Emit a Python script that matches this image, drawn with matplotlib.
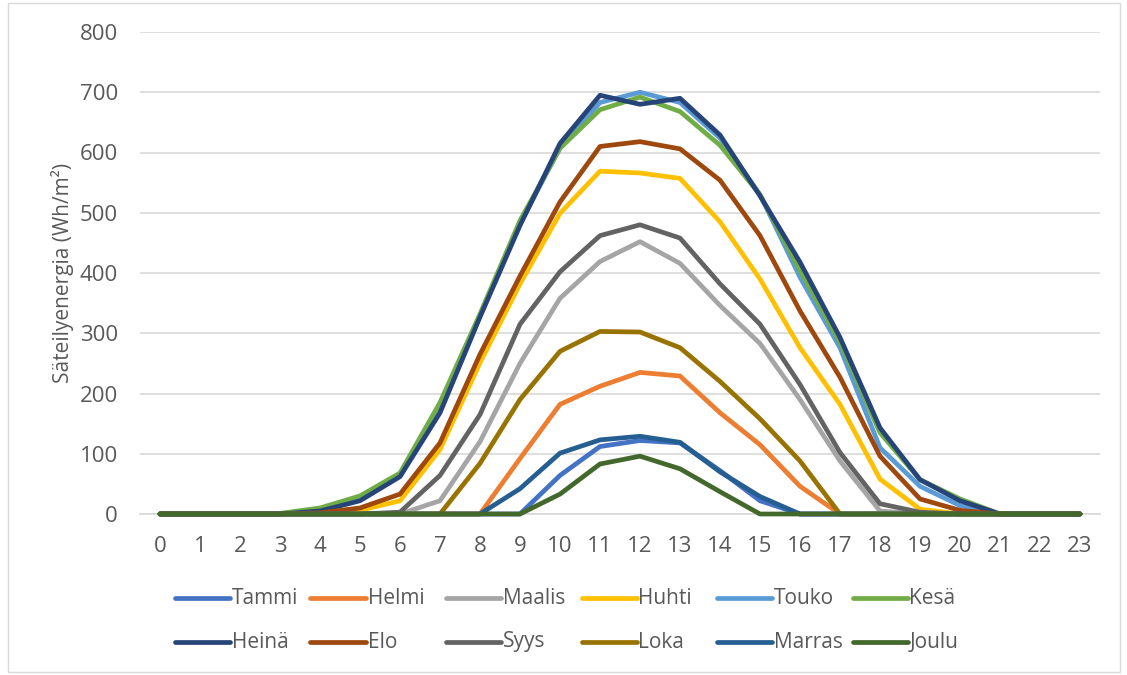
import matplotlib
matplotlib.use("Agg")
import matplotlib.pyplot as plt
from matplotlib.lines import Line2D
from matplotlib.patches import Rectangle

plt.rcParams["font.family"] = ["Open Sans", "DejaVu Sans"]

hours = list(range(24))
hour_labels = [str(h) for h in hours]

months = ["Tammi", "Helmi", "Maalis", "Huhti", "Touko", "Kesä",
          "Heinä", "Elo", "Syys", "Loka", "Marras", "Joulu"]

colors = ["#4472C4", "#ED7D31", "#A5A5A5", "#FFC000", "#5B9BD5", "#70AD47",
          "#264478", "#9E480E", "#636363", "#997300", "#255E91", "#43682B"]

# Hourly radiation energy (Wh/m2), hours 0..23
tammi  = [0, 0, 0, 0, 0, 0, 0, 0, 0, 0, 64, 112, 122, 118, 72, 22, 0, 0, 0, 0, 0, 0, 0, 0]
helmi  = [0, 0, 0, 0, 0, 0, 0, 0, 0, 92, 182, 212, 235, 229, 168, 115, 46, 0, 0, 0, 0, 0, 0, 0]
maalis = [0, 0, 0, 0, 0, 0, 0, 22, 120, 250, 358, 419, 452, 416, 346, 283, 190, 88, 5, 0, 0, 0, 0, 0]
huhti  = [0, 0, 0, 0, 1, 6, 22, 107, 251, 382, 499, 569, 566, 557, 485, 390, 276, 182, 58, 8, 0, 0, 0, 0]
touko  = [0, 0, 0, 0, 7, 25, 65, 178, 330, 482, 608, 683, 700, 683, 624, 530, 393, 276, 110, 46, 14, 0, 0, 0]
kesa   = [0, 0, 0, 1, 10, 30, 68, 185, 332, 487, 607, 671, 692, 668, 612, 530, 404, 285, 135, 57, 25, 0, 0, 0]
heina  = [0, 0, 0, 0, 5, 22, 62, 168, 327, 479, 615, 695, 680, 690, 629, 528, 418, 293, 143, 57, 22, 0, 0, 0]
elo    = [0, 0, 0, 0, 2, 10, 33, 118, 265, 395, 518, 610, 618, 606, 554, 462, 337, 227, 96, 25, 6, 0, 0, 0]
syys   = [0, 0, 0, 0, 0, 0, 3, 64, 165, 315, 402, 462, 480, 458, 382, 315, 215, 102, 17, 3, 0, 0, 0, 0]
loka   = [0, 0, 0, 0, 0, 0, 0, 0, 84, 190, 270, 303, 302, 276, 220, 158, 88, 0, 0, 0, 0, 0, 0, 0]
marras = [0, 0, 0, 0, 0, 0, 0, 0, 0, 42, 101, 123, 129, 119, 70, 29, 0, 0, 0, 0, 0, 0, 0, 0]
joulu  = [0, 0, 0, 0, 0, 0, 0, 0, 0, 0, 33, 83, 96, 75, 37, 0, 0, 0, 0, 0, 0, 0, 0, 0]

series = [tammi, helmi, maalis, huhti, touko, kesa,
          heina, elo, syys, loka, marras, joulu]

W, H = 1127, 675
fig = plt.figure(figsize=(W / 100, H / 100), dpi=100)
ax = fig.add_axes([140 / W, 1 - 514 / H, 960 / W, 482 / H])

text_color = "#595959"
grid_color = "#D9D9D9"

for vals, col in zip(series, colors):
    ax.plot(hours, vals, color=col, lw=3.4, solid_joinstyle="round",
            solid_capstyle="round", clip_on=False, zorder=3)

ax.set_xlim(-0.5, 23.5)
ax.set_ylim(0, 800)
ax.set_yticks(range(0, 801, 100))
ax.set_xticks(hours)
ax.set_xticklabels(hour_labels)
ax.grid(axis="y", color=grid_color, lw=1.2, zorder=0)
ax.set_axisbelow(True)
for s in ("top", "right", "left"):
    ax.spines[s].set_visible(False)
ax.spines["bottom"].set_color(grid_color)
ax.spines["bottom"].set_linewidth(1.2)
ax.tick_params(axis="both", length=0, colors=text_color, labelsize=16)
ax.tick_params(axis="y", pad=16)
ax.tick_params(axis="x", pad=16)

fig.text(62 / W, 1 - 273 / H, "Säteilyenergia (Wh/m²)", rotation=90,
         ha="center", va="center", color=text_color, fontsize=15)

# Legend: two rows of six fixed-width entries
x0, dx = 175, 135.5
rows_y = [598, 642]
for i, (name, col) in enumerate(zip(months, colors)):
    r, c = divmod(i, 6)
    xs = x0 + c * dx
    y = 1 - rows_y[r] / H
    fig.add_artist(Line2D([xs / W, (xs + 55) / W], [y, y], color=col, lw=3.4,
                          solid_capstyle="round", transform=fig.transFigure))
    fig.text((xs + 57) / W, y, name, ha="left", va="center",
             color=text_color, fontsize=15)

fig.add_artist(Rectangle((8 / W, 3 / H), 1112 / W, 669 / H, fill=False,
                         edgecolor="#D9D9D9", lw=1, transform=fig.transFigure))

fig.savefig("out.png", dpi=100, facecolor="white")
